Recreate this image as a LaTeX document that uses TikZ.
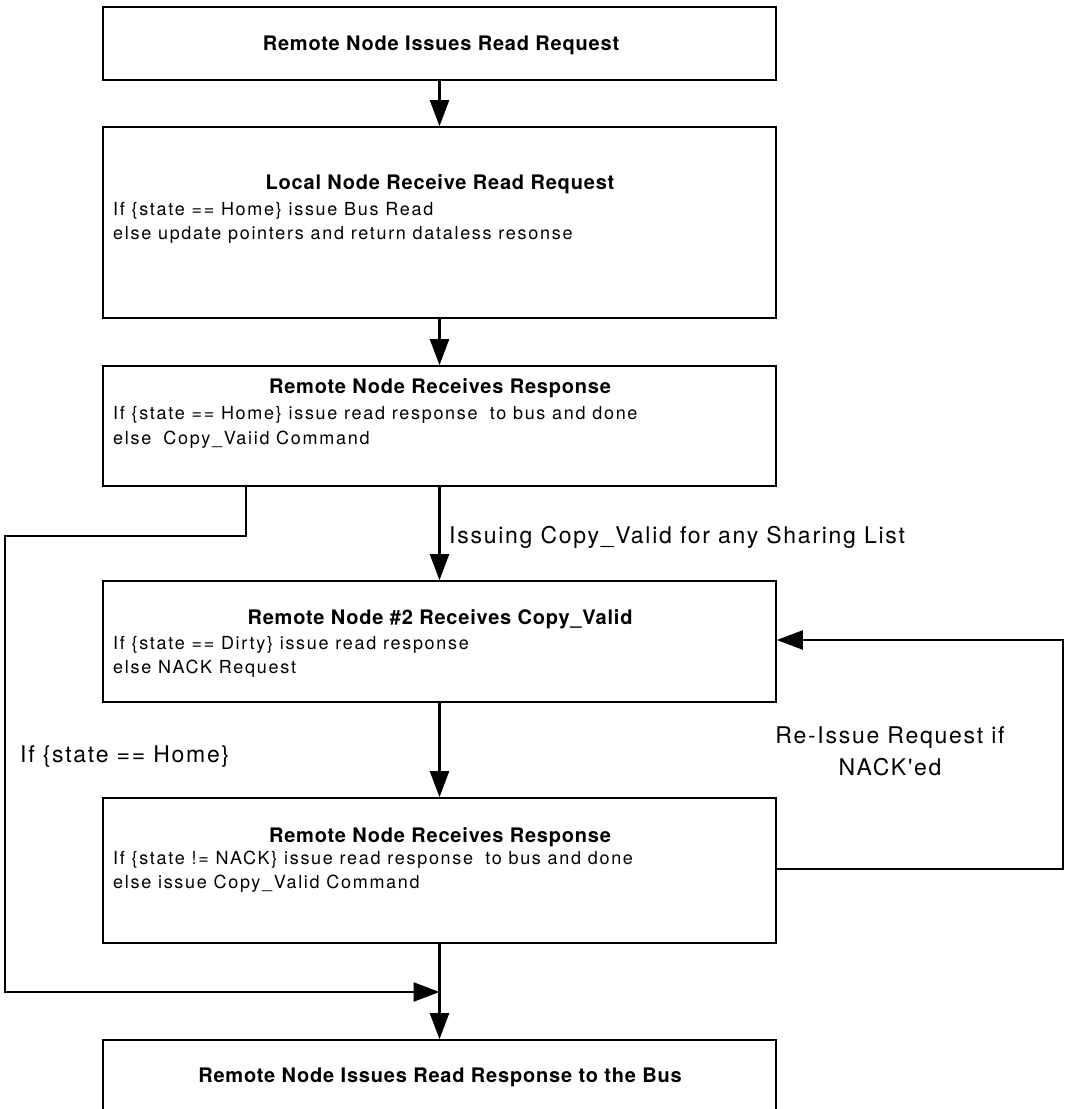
\documentclass[tikz,border=0pt]{standalone}
\usepackage{fontspec}
\setmainfont{TeX Gyre Heros}
\newfontfamily\bodyfont[LetterSpace=9.5]{TeX Gyre Heros}
\newfontfamily\titlefont[LetterSpace=4]{TeX Gyre Heros}
\newfontfamily\labelfont[LetterSpace=7.5]{TeX Gyre Heros}
\usetikzlibrary{arrows.meta}

\tikzset{
  box/.style={draw, line width=1.6pt, minimum width=673pt, inner sep=0pt},
  ttl/.style={anchor=base, inner sep=0pt,
    font=\titlefont\bfseries\fontsize{20}{24}\selectfont},
  body/.style={anchor=base west, inner sep=0pt,
    font=\bodyfont\fontsize{18}{22}\selectfont},
  lbl/.style={inner sep=0pt, align=center,
    font=\labelfont\fontsize{23}{32}\selectfont},
  flow/.style={line width=2.2pt, -{Triangle[length=26pt,width=19pt]}},
}

\begin{document}
\begin{tikzpicture}[x=1pt,y=-1pt]
\useasboundingbox (0,0) rectangle (1065,1109);
\clip (0,0) rectangle (1065,1109);

% process boxes
\node[box, minimum height=73pt]  (b1) at (439.5,43.5) {};
\node[box, minimum height=191pt] (b2) at (439.5,222.5) {};
\node[box, minimum height=120pt] (b3) at (439.5,426) {};
\node[box, minimum height=121pt] (b4) at (439.5,641.5) {};
\node[box, minimum height=145pt] (b5) at (439.5,870.5) {};
\node[box, minimum height=80pt]  (b6) at (439.5,1080) {};

% box texts
\node[ttl] (t1) at (441,50) {Remote Node Issues Read Request};

\node[ttl] (t2) at (440,189) {Local Node Receive Read Request};
\node[body] (t2a) at (113,215) {If \{state == Home\} issue Bus Read};
\node[body] (t2b) at (113,239) {else update pointers and return dataless resonse};

\node[ttl] (t3) at (440,393) {Remote Node Receives Response};
\node[body] (t3a) at (113,419) {If \{state == Home\} issue read response\hspace{0.3em} to bus and done};
\node[body] (t3b) at (113,444) {else\hspace{0.3em} Copy\_Vaiid Command};

\node[ttl] (t4) at (440,624) {Remote Node \#2 Receives Copy\_Valid};
\node[body] (t4a) at (113,649) {If \{state == Dirty\} issue read response};
\node[body] (t4b) at (113,673) {else NACK Request};

\node[ttl] (t5) at (440,842) {Remote Node Receives Response};
\node[body] (t5a) at (113,864) {If \{state != NACK\} issue read response\hspace{0.3em} to bus and done};
\node[body] (t5b) at (113,888) {else issue Copy\_Valid Command};

\node[ttl] (t6) at (440,1082) {Remote Node Issues Read Response to the Bus};

% main flow
\draw[flow] (b1.south) -- (b2.north);
\draw[flow] (b2.south) -- (b3.north);
\draw[flow] (b3.south) -- (b4.north);
\draw[flow] (b4.south) -- (b5.north);
\draw[flow] (b5.south) -- (b6.north);

\node[lbl, anchor=base west] (l1) at (449,543) {Issuing Copy\_Valid for any Sharing List};

% bypass when the line is at home
\coordinate (lp1) at (246,536);
\coordinate (lp2) at (5,536);
\coordinate (lp3) at (5,992);
\draw[flow] (b3.south -| lp1) -- (lp1) -- (lp2) -- (lp3) -- (lp3 -| b6.north);
\node[lbl, anchor=base west] (l2) at (20,762) {If \{state == Home\}};

% retry loop
\coordinate (rp1) at (1063,869);
\coordinate (rp2) at (1063,640);
\draw[flow] (b5.east |- rp1) -- (rp1) -- (rp2) -- (b4.east |- rp2);
\node[lbl, anchor=base] (l3) at (890,743) {Re-Issue Request if};
\node[lbl, anchor=base] (l4) at (890,775) {NACK'ed};
\end{tikzpicture}
\end{document}
